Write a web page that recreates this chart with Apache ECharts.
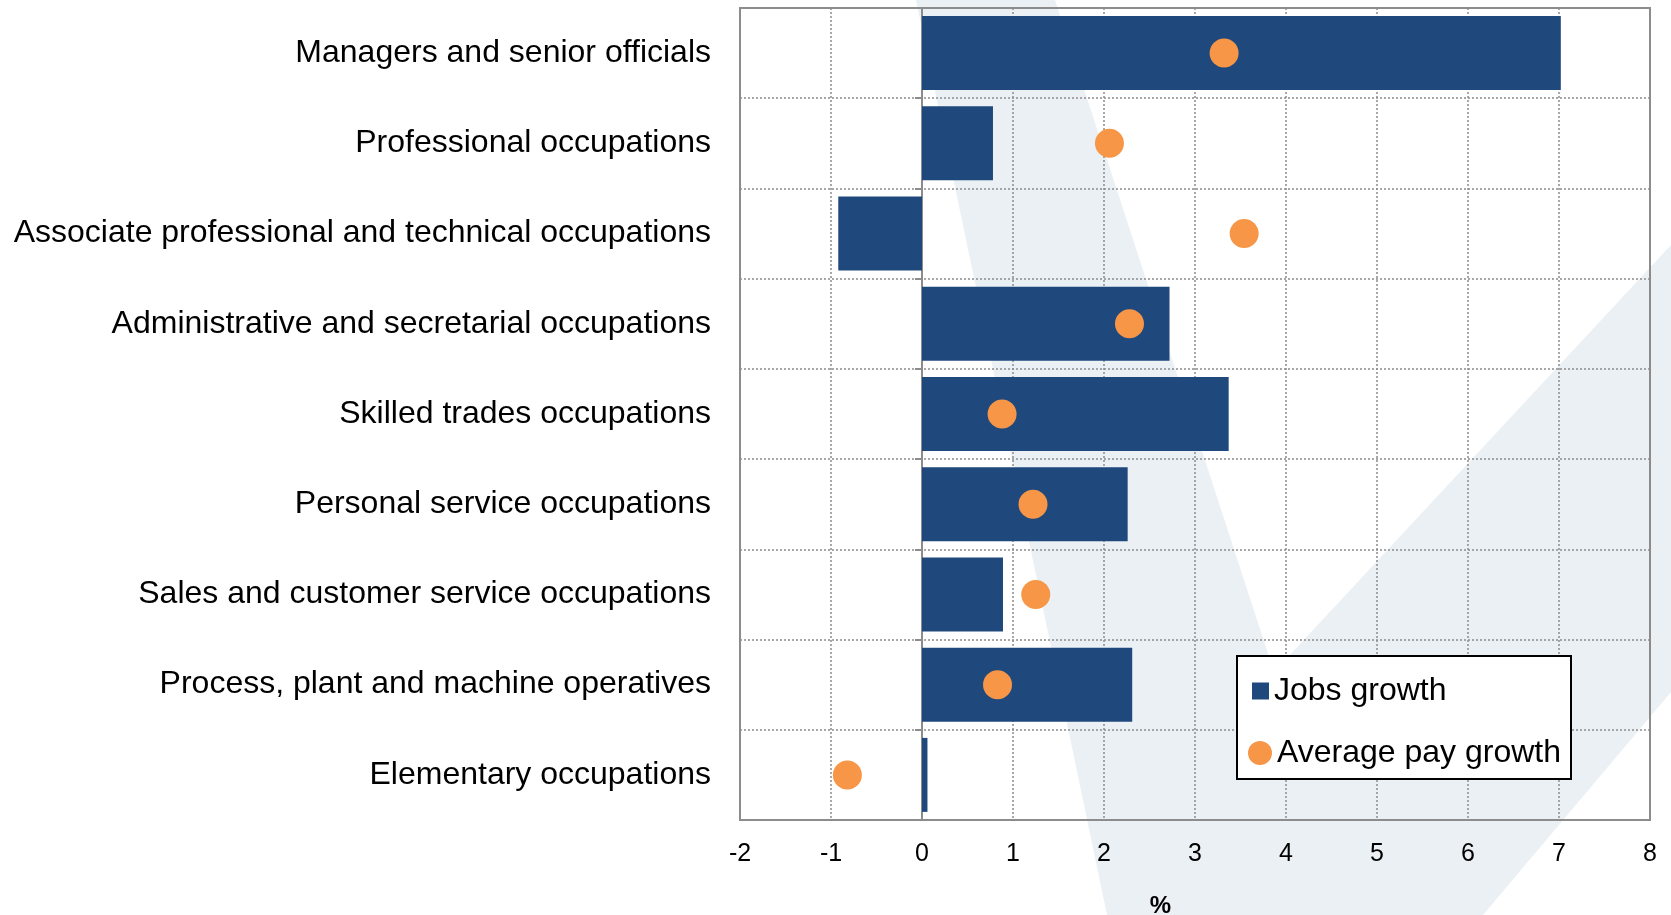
<!DOCTYPE html>
<html>
<head>
<meta charset="utf-8">
<script src="https://cdn.jsdelivr.net/npm/echarts@6/dist/echarts.min.js"></script>
<style>
html,body{margin:0;padding:0;background:#fff;}
#chart{width:1671px;height:915px;}
</style>
</head>
<body>
<div id="chart"></div>
<script>
const categories = [
  'Managers and senior officials',
  'Professional occupations',
  'Associate professional and technical occupations',
  'Administrative and secretarial occupations',
  'Skilled trades occupations',
  'Personal service occupations',
  'Sales and customer service occupations',
  'Process, plant and machine operatives',
  'Elementary occupations'
];
const jobsGrowth = [7.02, 0.78, -0.92, 2.72, 3.37, 2.26, 0.89, 2.31, 0.06];
const payGrowth = [3.32, 2.06, 3.54, 2.28, 0.88, 1.22, 1.25, 0.83, -0.82];
const xTicks = { min: -2, max: 8, interval: 1 };
const seriesNames = ['Jobs growth', 'Average pay growth'];
const axisName = '%';

const FONT = "'Liberation Sans', Arial, sans-serif";
const chart = echarts.init(document.getElementById('chart'), null, { renderer: 'canvas' });

const option = {
  backgroundColor: '#ffffff',
  animation: false,
  textStyle: { fontFamily: FONT, color: '#000' },
  grid: {
    left: 740, right: 21, top: 8, bottom: 95,
    show: true, borderColor: '#8c8c8c', borderWidth: 2, backgroundColor: 'transparent',
    containLabel: false, outerBoundsMode: 'none'
  },
  graphic: [
    {
      type: 'polygon', z: -10, silent: true,
      shape: { points: [[916, 0], [1107, 915], [1483, 915], [1671, 692], [1671, 245], [1274, 672], [1055, 0]] },
      style: { fill: '#ebf0f4' }
    },
    {
      type: 'rect', z: 50, silent: true,
      shape: { x: 1237, y: 656, width: 334, height: 123 },
      style: { fill: '#ffffff', stroke: '#000000', lineWidth: 2 }
    }
  ],
  legend: [
    {
      data: [seriesNames[0]], orient: 'vertical', left: 1252, top: 672, padding: 0,
      itemWidth: 17, itemHeight: 17, icon: 'rect', z: 60,
      textStyle: { fontFamily: FONT, fontSize: 32, color: '#000', lineHeight: 34, padding: [4, 0, 0, 0] }
    },
    {
      data: [seriesNames[1]], orient: 'vertical', left: 1248, top: 734, padding: 0,
      itemWidth: 24, itemHeight: 24, icon: 'circle', z: 60,
      textStyle: { fontFamily: FONT, fontSize: 32, color: '#000', lineHeight: 34, padding: [4, 0, 0, 0] }
    }
  ],
  xAxis: {
    type: 'value', min: xTicks.min, max: xTicks.max, interval: xTicks.interval,
    name: axisName, nameLocation: 'middle', nameGap: 74,
    nameTextStyle: { fontFamily: FONT, fontSize: 24, fontWeight: 'bold', color: '#000', padding: [0, 69, 0, 0] },
    axisLine: { show: false },
    axisTick: { show: false },
    axisLabel: { fontFamily: FONT, fontSize: 25, color: '#000', margin: 22 },
    splitLine: { show: true, lineStyle: { color: '#8c8c8c', type: [2, 2], width: 1.5 } }
  },
  yAxis: [
    {
      type: 'category', data: categories, inverse: true,
      axisLine: { show: false, onZero: false },
      axisTick: { show: false },
      axisLabel: { fontFamily: FONT, fontSize: 32, color: '#000', margin: 29, padding: [3, 0, 0, 0] },
      splitLine: { show: true, lineStyle: { color: '#8c8c8c', type: [2, 2], width: 1.5 } }
    },
    {
      type: 'category', data: categories, inverse: true, position: 'left',
      axisLine: { show: true, onZero: true, lineStyle: { color: '#8c8c8c', width: 2 } },
      axisTick: { show: true, length: 7, inside: false, lineStyle: { color: '#8c8c8c', width: 2 } },
      axisLabel: { show: false },
      splitLine: { show: false }
    }
  ],
  series: [
    {
      name: seriesNames[0], type: 'bar', yAxisIndex: 0,
      data: jobsGrowth, barCategoryGap: '18%',
      itemStyle: { color: '#1f497d' }, z: 3
    },
    {
      name: seriesNames[1], type: 'scatter', yAxisIndex: 0,
      data: payGrowth.map((v, i) => [v, categories[i]]),
      symbol: 'circle', symbolSize: 29,
      itemStyle: { color: '#f79646', opacity: 1 }, z: 4
    }
  ]
};
chart.setOption(option);
</script>
</body>
</html>
